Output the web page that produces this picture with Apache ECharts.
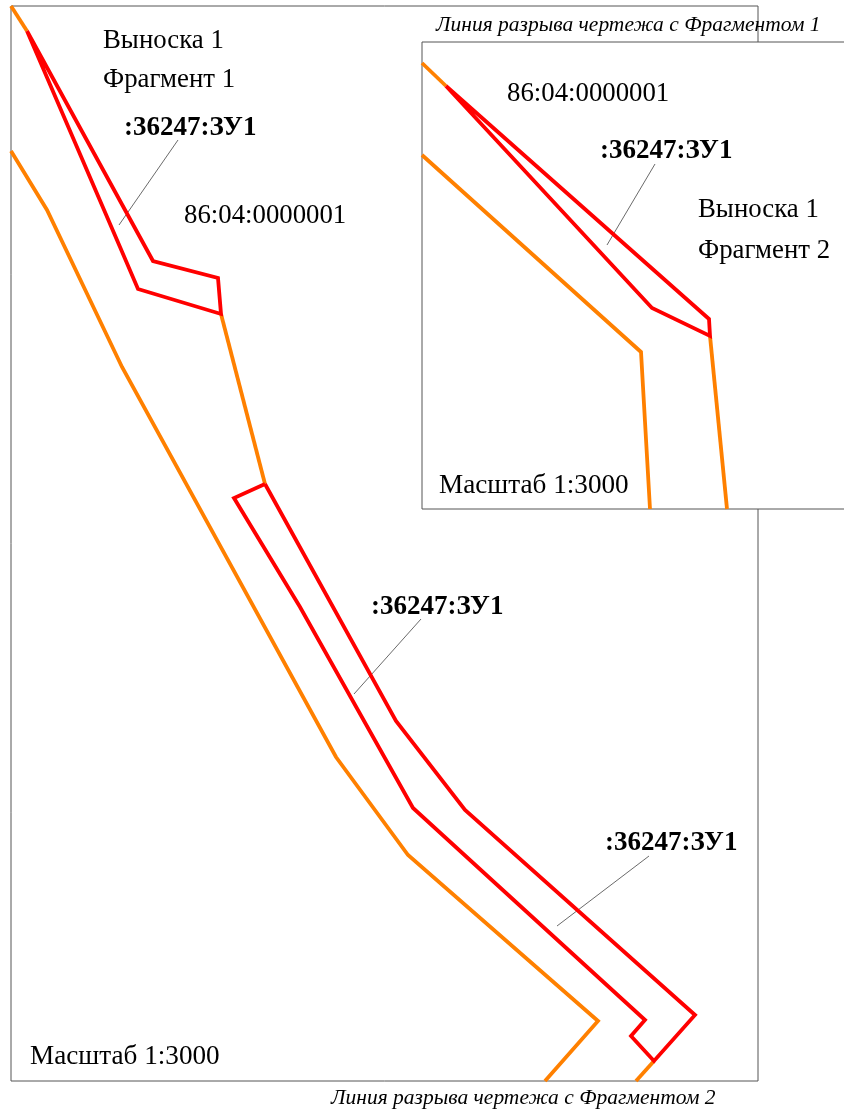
<!DOCTYPE html>
<html><head><meta charset="utf-8">
<style>html,body{margin:0;padding:0;background:#fff}#c{width:844px;height:1112px}</style>
<script src="https://cdn.jsdelivr.net/npm/echarts@6/dist/echarts.min.js"></script>
</head><body><div id="c"></div>
<script>
const frameMain=[[758,42],[758,6],[11,6],[11,1081],[758,1081],[758,509]];
const frameInset=[[844,42],[422,42],[422,509],[844,509]];
const orangeTop=[[11,6],[27,31]];
const orangeMid=[[221,314],[265,484]];
const orangeBottom=[[654,1061],[636,1081]];
const orangeLeft=[[11,151],[47,210],[122,367],[336,757],[408,855],[598,1021],[545,1081]];
const insetOrangeTop=[[422,63],[446,86]];
const insetOrangeRight=[[710,336],[727,509]];
const insetOrangeLeft=[[422,155],[641,352],[650,509]];
const redUpper=[[27,31],[153,261],[218,278],[221,314],[138,289],[120,247],[27,31]];
const redLower=[[265,484],[234,498],[300,607],[413,808],[645,1020],[631,1036],[654,1061],[695,1015],[465,810],[396,721],[265,484]];
const redInset=[[446,86],[709,319],[710,336],[652,308],[446,86]];
const leaders=[[[178,140],[119,225]],[[655,164],[607,245]],[[421,619],[354,694]],[[649,856],[557,926]]];
const plainTexts=['Выноска 1','Фрагмент 1','86:04:0000001','86:04:0000001','Выноска 1','Фрагмент 2'];
const plainPos=[[103,41],[103,80],[184,216],[507,94],[698,210],[698,251]];
const scaleTexts=['Масштаб 1:3000','Масштаб 1:3000'];
const scalePos=[[439,486],[30,1057]];
const boldTexts=[':36247:ЗУ1',':36247:ЗУ1',':36247:ЗУ1',':36247:ЗУ1'];
const boldPos=[[124,128],[600,151],[371,607],[605,843]];
const italicTexts=['Линия разрыва чертежа с Фрагментом 1','Линия разрыва чертежа с Фрагментом 2'];
const italicPos=[[436,25],[331,1098]];

const FONT='"Liberation Serif","Times New Roman",serif';
const line=(data,color,width,z)=>({type:'line',data,showSymbol:false,symbol:'none',silent:true,animation:false,z,
  lineStyle:{color,width,join:'miter',cap:'butt'},clip:false});
const text=(names,pos,size,weight,style)=>({type:'scatter',symbolSize:0,silent:true,animation:false,z:10,
  itemStyle:{opacity:1},
  data:names.map((n,i)=>({name:n,value:pos[i]})),
  label:{show:true,position:'inside',align:'left',verticalAlign:'middle',formatter:p=>p.name,opacity:1,
    color:'#000',fontFamily:FONT,fontSize:size,fontWeight:weight,fontStyle:style}});
const series=[
  line(frameMain,'#555',1,1),line(frameInset,'#555',1,1),
  ...leaders.map(l=>line(l,'#444',0.8,2)),
  ...[orangeTop,orangeMid,orangeBottom,orangeLeft,insetOrangeTop,insetOrangeRight,insetOrangeLeft].map(d=>line(d,'#ff8000',3.8,3)),
  ...[redUpper,redLower,redInset].map(d=>line(d,'#ff0000',3.8,4)),
  text(plainTexts,plainPos,26.8,'normal','normal'),
  text(scaleTexts,scalePos,27.2,'normal','normal'),
  text(boldTexts,boldPos,27,'bold','normal'),
  text(italicTexts,italicPos,21.5,'normal','italic')
];
const chart=echarts.init(document.getElementById('c'),null,{renderer:'canvas'});
chart.setOption({backgroundColor:'#fff',animation:false,tooltip:{show:false},legend:{show:false},
  grid:{left:0,right:0,top:0,bottom:0},
  xAxis:{type:'value',min:0,max:844,show:false},
  yAxis:{type:'value',min:0,max:1112,inverse:true,show:false},
  series});
</script></body></html>
